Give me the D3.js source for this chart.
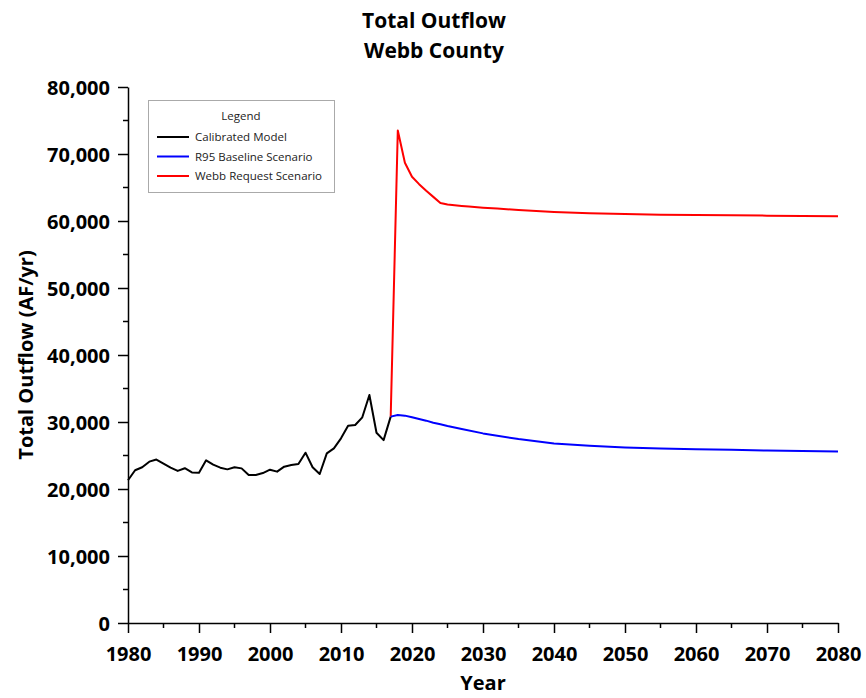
<!DOCTYPE html>
<html><head><meta charset="utf-8">
<script src="https://cdn.jsdelivr.net/npm/d3@7"></script>
<style>
body{margin:0;background:#fff;}
svg{display:block;font-family:"Open Sans",sans-serif;}
</style></head>
<body><svg id="chart" width="866" height="698"></svg>
<script>
const titleLines = ["Total Outflow", "Webb County"];
const xLabel = "Year";
const yLabel = "Total Outflow (AF/yr)";
const xTicks = [1980,1990,2000,2010,2020,2030,2040,2050,2060,2070,2080];
const yTicks = [0,10000,20000,30000,40000,50000,60000,70000,80000];

const calYears = [1980,1981,1982,1983,1984,1985,1986,1987,1988,1989,1990,1991,1992,1993,1994,1995,1996,1997,1998,1999,2000,2001,2002,2003,2004,2005,2006,2007,2008,2009,2010,2011,2012,2013,2014,2015,2016,2017];
const calValues = [21300,22800,23250,24080,24400,23800,23200,22700,23100,22480,22420,24280,23630,23180,22930,23240,23080,22080,22100,22380,22880,22590,23330,23580,23730,25420,23240,22240,25320,26070,27560,29450,29550,30700,34030,28400,27300,30800];

const baseYears = [2017,2018,2019,2020,2021,2022,2023,2024,2025,2027,2030,2035,2040,2045,2050,2055,2060,2065,2070,2075,2080];
const baseValues = [30800,31050,30950,30700,30450,30200,29900,29650,29400,28950,28300,27450,26800,26450,26200,26050,25950,25850,25750,25680,25580];

const webbYears = [2017,2018,2019,2020,2021,2022,2023,2024,2025,2026,2027,2028,2030,2032,2035,2040,2045,2050,2055,2060,2065,2070,2075,2080];
const webbValues = [30800,73500,68700,66600,65500,64500,63600,62700,62450,62350,62250,62150,61980,61850,61650,61350,61150,61030,60950,60900,60850,60800,60750,60700];

const legendItems = ["Calibrated Model","R95 Baseline Scenario","Webb Request Scenario"];
const colors = ["#000000","#0000ff","#ff0000"];

const W = 866, H = 698;
const m = {left:128, right:28, top:87, bottom:75};
const svg = d3.select("#chart");
const x = d3.scaleLinear().domain([1980,2080]).range([m.left, W-m.right]);
const y = d3.scaleLinear().domain([0,80000]).range([H-m.bottom, m.top]);

// minor ticks
const xMinor = d3.range(1985, 2080, 10);
const yMinor = d3.range(5000, 80000, 10000);
svg.append("g").selectAll("line").data(xMinor).join("line")
  .attr("x1", d=>x(d)).attr("x2", d=>x(d))
  .attr("y1", y(0)).attr("y2", y(0)+5)
  .attr("stroke","#000").attr("stroke-width",1.5);
svg.append("g").selectAll("line").data(yMinor).join("line")
  .attr("x1", x(1980)-5).attr("x2", x(1980))
  .attr("y1", d=>y(d)).attr("y2", d=>y(d))
  .attr("stroke","#000").attr("stroke-width",1.5);

const fmt = d3.format(",");
const xAxis = svg.append("g").attr("transform",`translate(0,${y(0)})`)
  .call(d3.axisBottom(x).tickValues(xTicks).tickFormat(d3.format("d")).tickSizeInner(10).tickSizeOuter(0).tickPadding(14));
const yAxis = svg.append("g").attr("transform",`translate(${x(1980)},0)`)
  .call(d3.axisLeft(y).tickValues(yTicks).tickFormat(fmt).tickSizeInner(10).tickSizeOuter(0).tickPadding(8));
[xAxis,yAxis].forEach(g=>{
  g.selectAll("path,line").attr("stroke","#000").attr("stroke-width",1.5);
  g.selectAll("text").attr("font-family","Open Sans").attr("font-weight","700")
   .attr("font-size",20).attr("fill","#000");
});
yAxis.selectAll("text").attr("dy","0.36em");

// lines
const line = d3.line().x(d=>x(d[0])).y(d=>y(d[1]));
const series = [
  d3.zip(calYears, calValues),
  d3.zip(baseYears, baseValues),
  d3.zip(webbYears, webbValues)
];
const order = [0,2,1];
order.forEach(i=>{
  svg.append("path").datum(series[i]).attr("d", line)
    .attr("fill","none").attr("stroke", colors[i]).attr("stroke-width",2)
    .attr("stroke-linejoin","round");
});

// titles
svg.append("text").attr("x", 434).attr("y", 28).attr("text-anchor","middle")
  .attr("font-weight","700").attr("font-size",21).text(titleLines[0]);
svg.append("text").attr("x", 434).attr("y", 58).attr("text-anchor","middle")
  .attr("font-weight","700").attr("font-size",21).text(titleLines[1]);
svg.append("text").attr("x", x(2030)).attr("y", 690).attr("text-anchor","middle")
  .attr("font-weight","700").attr("font-size",20).text(xLabel);
svg.append("text").attr("transform",`translate(33,${(y(0)+y(80000))/2}) rotate(-90)`)
  .attr("text-anchor","middle").attr("font-weight","700").attr("font-size",20).text(yLabel);

// legend
const lg = svg.append("g");
lg.append("rect").attr("x",148.5).attr("y",100.5).attr("width",186).attr("height",92)
  .attr("fill","#fff").attr("stroke","#aaa").attr("stroke-width",1);
lg.append("text").attr("x",241).attr("y",120).attr("text-anchor","middle")
  .attr("font-size",11.5).attr("fill","#222").text("Legend");
legendItems.forEach((t,i)=>{
  const yy = 137 + i*19.5;
  lg.append("line").attr("x1",157).attr("x2",189).attr("y1",yy).attr("y2",yy)
    .attr("stroke",colors[i]).attr("stroke-width",2);
  lg.append("text").attr("x",195).attr("y",yy).attr("dy","0.35em")
    .attr("font-size",11.5).attr("fill","#222").text(t);
});
</script></body></html>
